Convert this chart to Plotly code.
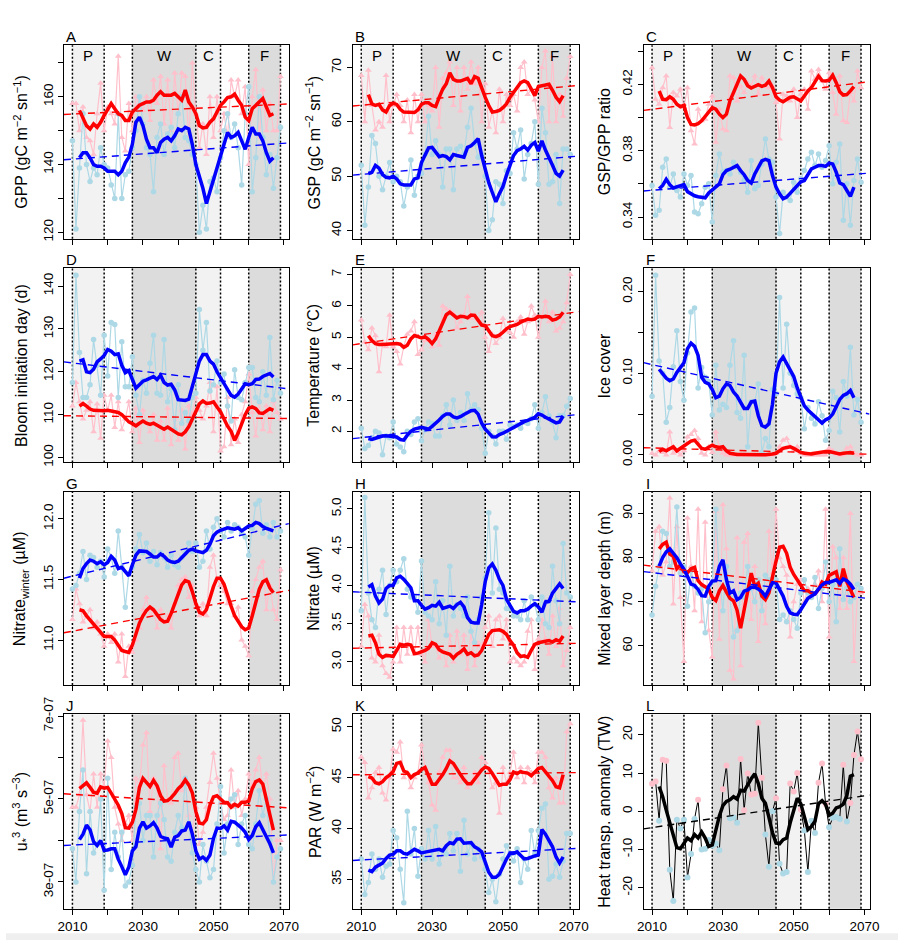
import plotly.graph_objects as go

FONT = "Liberation Sans, Arial, Helvetica, sans-serif"
YEARS = list(range(2010, 2070))
SMOOTH_YEARS = list(range(2012, 2068))
X_RANGE = [2007.6, 2071.4]
X_TICKS_LABELED = [2010, 2030, 2050, 2070]
X_TICKS_MINOR = [2020, 2040, 2060]

PERIOD_EDGES = [2010, 2019, 2027, 2045, 2052, 2060, 2069]
PERIOD_SHADES = [(2010, 2019, "#F2F2F2"), (2027, 2045, "#DCDCDC"),
                 (2045, 2052, "#F2F2F2"), (2060, 2069, "#DCDCDC")]
PERIOD_LABELS = ["P", "W", "C", "F"]

# ---------------- A: GPP ----------------
gpp_red_raw = [158,158,150,157,148,147,143,155,164,150, 157,155,152,172,148,144,158,150,160,158,
               156,160,153,165,158,166,152,165,150,167, 155,167,166,147,170,155,145,152,143,160,
               148,160,150,155,148,165,160,165,155,163, 140,160,168,148,162,150,158,150,150,166]
gpp_blue_raw = [147,121,139,155,140,135,139,137,145,140, 139,134,130,155,130,137,138,145,150,160,
                152,145,143,132,148,152,143,149,151,145, 155,160,148,147,143,140,120,128,121,135,
                136,132,142,150,155,148,152,145,134,155, 163,132,142,160,148,137,143,133,142,151]
gpp_red_smooth = [156,153.5,151.5,150.5,152,151,152.5,154.5, 156.5,158,156.5,155,154.5,153,153,155.5,
                  156.5,157.5,158,158.5,158.5,159,160.5,161.5, 160.5,160.5,160.5,161,160,159,162,158.5,
                  157,155,151.5,150.8,151,152.5,153.5,155.5, 157.5,158.5,159.8,160,160.8,159,157.5,154,
                  153,156.5,157.5,158.5,159.5,157,154.5,155]
gpp_blue_smooth = [142,143.5,143.5,142,140,139.5,139.5,139, 138,138,138,137,138,140.5,142.2,146,
                   152.5,154,151.5,147.5,145,145,143.5,146.5, 147.5,148,147,148.5,150.5,150,151,150.5,
                   146,140,136.5,133,128.5,132.5,135.5,139, 143,146,149.5,148,148.5,149.5,147,144.5,
                   148,151,149,149,147,143.5,141,142]
gpp_red_trend = [154.8, 157.9]
gpp_blue_trend = [141.4, 146.4]

# ---------------- B: GSP ----------------
gsp_red_raw = [68.5,60,69.5,63,58.5,60,59,68.5,60,63, 65,63,60,64,58,65,60,65,60,63,
               62,70,59,68,69,71,63,70,62,70, 66,71,67,70,60,67,59,62,58,66,
               60,65,63,65,62,70,71,65,66,64, 60,70,73,60,72,60,65,61,68,72]
gsp_blue_raw = [52,41,48,57.5,56,50,47.5,50,52.5,49, 50,49,44.5,48,53,46.5,50,50.5,54,61,
                54,56.5,54,48,55,55,47.5,55,55.5,54, 59,62.5,56,53.5,54,50,40,42,49,48.5,
                45,51,50.5,58,55,58.5,49.5,54,56,60, 48.5,62.5,58,48.5,49,54,45,55,55,54]
gsp_red_smooth = [65,63.3,63,63.2,62.2,61.8,63,63.4, 63.2,62.3,61.8,61.8,61.7,61.7,62.2,63.2,
                  63.5,63.5,63,62.8,64.5,66,67,69, 67.8,67.5,67.5,67.8,68,67,68.3,68,
                  66,64.5,63,61.8,61.9,62.1,62.6,63.3, 64.5,65.5,66.3,67.2,67.5,67.2,66,64.8,
                  66.5,66.6,66.7,66.9,65.8,64.5,63.7,64.8]
gsp_blue_smooth = [50.5,50.7,52,51.5,50.3,49.8,49.7,50, 49.5,48.6,48.4,48.4,48.4,49.5,49.7,52.5,
                   54,55.2,55.3,54.5,53.6,53.8,53.6,53, 54,53.8,53.6,53.5,55.3,55.6,56.2,56.9,
                   53.8,51,48.8,47,45.3,46.8,48.1,50.2, 52,53.8,54.7,55,55.5,54.8,55.7,56.2,
                   54.6,56.5,54.8,53.5,52,50.5,50,51.1]
gsp_red_trend = [62.9, 66.7]
gsp_blue_trend = [50.2, 53.7]

# ---------------- C: GSP/GPP ratio ----------------
ratio_red_raw = [.430,.411,.408,.418,.425,.394,.415,.413,.417,.406, .418,.392,.384,.405,.398,.399,.408,.413,.385,.405,
                 .393,.392,.425,.424,.410,.419,.415,.421,.419,.425, .414,.424,.419,.418,.419,.409,.387,.414,.413,.410,
                 .417,.400,.414,.417,.405,.428,.423,.429,.422,.417, .427,.415,.402,.425,.398,.397,.415,.410,.428,.418]
ratio_blue_raw = [.359,.341,.344,.370,.375,.358,.366,.356,.352,.366, .359,.365,.343,.342,.348,.358,.360,.337,.365,.378,
                  .367,.368,.366,.373,.370,.367,.362,.355,.374,.357, .359,.372,.387,.375,.373,.352,.330,.355,.352,.350,
                  .361,.355,.363,.368,.375,.379,.371,.378,.370,.374, .383,.360,.373,.384,.338,.360,.335,.362,.375,.361]
ratio_red_smooth = [.416,.411,.4108,.4125,.411,.408,.4065,.4073, .400,.3958,.3955,.3963,.398,.4008,.4033,.406,
                    .405,.402,.400,.402,.410,.415,.420,.425, .423,.4192,.4178,.419,.4198,.4188,.4195,.422,
                    .418,.4125,.4105,.4095,.411,.4122,.4125,.411, .410,.413,.416,.418,.422,.425,.4222,.422,
                    .4225,.4255,.421,.4155,.4135,.4138,.416,.4186]
ratio_blue_smooth = [.357,.359,.3627,.3595,.3575,.358,.359,.3595, .3553,.354,.3528,.3522,.352,.3516,.3545,.3565,
                     .358,.360,.3655,.368,.3688,.370,.371,.368, .3655,.362,.3605,.366,.3705,.3738,.3748,.374,
                     .365,.358,.354,.351,.352,.3543,.357,.359, .3612,.362,.366,.369,.370,.371,.371,.3705,
                     .3725,.372,.367,.3605,.3595,.356,.3525,.358]
ratio_red_trend = [0.4043, 0.4216]
ratio_blue_trend = [0.3557, 0.3665]

# ---------------- D: Bloom initiation day ----------------
bloom_blue_raw = [117.5,142.5,124.5,114,114,117,127.5,121.5,114.5,128.5, 119,131.5,131,114,127,116.5,116.5,123.5,114.5,110,
                  118,115,122,128.5,115,114.5,127.5,113,116,106.5, 117,108,110.5,108.5,114,115,134.5,125,131.5,115.5,
                  117,122.5,117.5,119.5,112,108.5,120.5,114,113.5,117.5, 121,121,114,113,120,114.5,128,113.5,118,115]
bloom_red_raw = [112,117.5,113,109,111,113,106,112.5,104.5,114.5, 111,114.5,107,113,106.5,109,113,106,111.5,103.5,
                 111,108,106,110,104,108.5,104,111.5,103,109, 104,111,102,112,110,114,111,109,112,117.5,
                 106,116.5,101.5,102.5,114,103,109,103.5,110,113, 119.5,110.5,105,113,106.5,112,106,113,110.5,109]
bloom_blue_smooth = [122.5,122.8,120,119.8,120.6,122.3,123,123.8, 125.2,124.8,124,124.2,121.5,119.8,120.3,118,
                     116.2,117,117.8,118.1,118.4,118.9,118.2,119.2, 117.5,116.9,117.1,115.8,113.5,113.3,113.3,113.6,
                     116.5,119.3,122.5,124,124,122.5,121.8,120, 118.6,117.3,115.5,114.5,114.1,114.8,116,117.2,
                     117,117.2,118.2,118.3,118.9,119.3,119.6,118.8]
bloom_red_smooth = [112,112.6,112,111.3,111,110.9,110.8,110.9, 111,110.9,110.8,110.5,110,109,108.3,107.9,
                    107.4,108,108.5,108,107.7,108,107.5,107.2, 106.6,107.1,106.6,106,105.5,105.3,106,107.2,
                    109,110.6,112.5,113.2,112.6,112.7,113,111.8, 110.7,109,107.3,106.1,104,105.7,107.8,110,
                    111.5,111.8,111.4,110.4,110.3,110.9,111.4,111]
bloom_red_trend = [109.75, 109.1]
bloom_blue_trend = [122.3, 116.0]

# ---------------- E: Temperature ----------------
temp_red_raw = [5.55,4.85,4.6,5.3,5.05,3.9,4.8,4.7,5.7,4.7, 4.55,4.15,4.7,5.1,5.2,5.5,4.45,4.6,4.9,4.95,
                4.7,5.1,4.75,6.0,5.9,5.85,5.75,5.3,5.5,5.7, 6.3,5.6,5.7,5.55,5.8,5.0,4.55,5.1,4.8,5.0,
                5.6,5.2,5.15,5.0,5.5,5.65,5.1,5.5,6.0,5.7, 5.0,5.65,6.15,5.5,5.8,5.2,5.3,5.5,6.1,7.0]
temp_blue_raw = [2.1,1.45,1.55,1.8,2.0,1.95,1.25,1.85,1.8,2.3, 1.6,1.5,1.35,2.0,1.9,2.3,2.4,1.7,2.05,2.3,
                 2.25,1.85,1.85,2.5,2.85,2.2,3.0,2.35,2.6,2.35, 3.2,2.7,2.85,2.7,2.1,1.3,2.0,1.85,1.6,2.0,
                 2.0,1.75,2.2,2.15,2.2,2.1,2.3,2.25,2.4,2.85, 2.1,2.6,3.1,2.5,2.3,1.8,2.5,2.5,2.8,3.05]
temp_red_smooth = [5.05,4.9,4.8,4.77,4.77,4.78,4.8,4.79, 4.8,4.78,4.68,4.75,4.95,5.06,5.02,4.98,
                   5.02,4.93,4.8,4.95,5.2,5.45,5.72,5.8, 5.72,5.62,5.67,5.66,5.62,5.71,5.7,5.55,
                   5.39,5.37,5.22,5.05,5.02,5.07,5.16,5.27, 5.34,5.37,5.41,5.48,5.54,5.58,5.56,5.58,
                   5.67,5.65,5.67,5.65,5.55,5.58,5.65,5.8]
temp_blue_smooth = [1.77,1.74,1.78,1.82,1.85,1.86,1.85,1.85, 1.82,1.74,1.72,1.88,2.0,2.07,2.1,2.13,
                    2.1,2.07,2.16,2.25,2.36,2.48,2.55,2.55, 2.46,2.43,2.47,2.54,2.61,2.66,2.67,2.55,
                    2.26,2.07,1.95,1.83,1.82,1.9,1.94,2.0, 2.08,2.15,2.21,2.27,2.31,2.35,2.4,2.45,
                    2.56,2.52,2.45,2.39,2.32,2.27,2.3,2.49]
temp_red_trend = [4.76, 5.82]
temp_blue_trend = [1.77, 2.54]

# ---------------- F: Ice cover ----------------
ice_blue_raw = [.072,.220,.115,.100,.040,.058,.108,.152,.090,.067, .125,.175,.180,.082,.107,.095,.090,.049,.110,.055,
                .062,.058,.110,.140,.052,.045,.122,.010,.065,.065, .087,.003,.020,.010,.080,.075,.193,.082,.160,.100,
                .085,.075,.070,.032,.058,.045,.038,.065,.048,.018, .030,.078,.070,.028,.090,.072,.132,.049,.068,.040]
ice_red_raw = [.002,.000,.005,.003,.000,.028,.002,.004,.000,.005, .022,.025,.030,.020,.002,.000,.010,.003,.028,.010,
               .002,.000,.000,.000,.000,.000,.000,.000,.000,.000, .000,.000,.000,.000,.000,.002,.010,.018,.020,.010,
               .005,.010,.002,.000,.000,.000,.000,.000,.000,.000, .008,.005,.001,.000,.000,.008,.010,.003,.000,.000]
ice_blue_smooth = [.105,.100,.094,.091,.093,.101,.107,.113, .130,.137,.133,.122,.095,.089,.087,.080,
                   .070,.072,.081,.087,.085,.077,.072,.064, .057,.057,.065,.066,.048,.036,.034,.038,
                   .062,.100,.114,.120,.112,.102,.096,.082, .072,.060,.055,.051,.047,.042,.039,.043,
                   .045,.050,.059,.068,.073,.075,.079,.070]
ice_red_smooth = [.004,.007,.005,.008,.010,.005,.008,.011, .014,.017,.018,.013,.008,.007,.009,.012,
                  .010,.009,.010,.005,.002,.001,.0005,.0005, .0003,.0003,.0003,.0003,.0003,.0003,.0003,.0005,
                  .001,.002,.005,.008,.009,.010,.008,.005, .003,.002,.001,.001,.002,.003,.004,.004,
                  .004,.003,.002,.001,.002,.003,.003,.002]
ice_red_trend = [0.0088, 0.0008]
ice_blue_trend = [0.113, 0.050]

# ---------------- G: Winter nitrate ----------------
nw_red_raw = [11.17,11.42,11.3,11.15,11.2,11.25,11.1,11.15,11.05,10.95, 11.05,10.98,11.05,10.82,11.05,10.7,10.95,10.9,11.0,11.1,
              11.25,11.35,11.2,11.25,11.1,11.25,11.15,11.2,11.1,11.3, 11.45,11.5,11.52,11.35,11.45,11.3,11.2,11.3,11.2,11.6,
              11.7,11.5,11.45,11.4,11.3,11.3,11.2,11.27,11.0,10.95, 10.87,11.4,11.5,11.6,11.65,11.25,11.45,11.25,11.17,11.58]
nw_blue_raw = [11.42,11.45,11.55,11.73,11.5,11.7,11.68,11.6,11.65,11.52, 11.75,11.68,11.55,11.9,11.6,11.27,11.55,11.6,11.75,11.87,
               11.72,11.8,11.65,11.73,11.62,11.72,11.68,11.6,11.7,11.62, 11.6,11.68,11.72,11.8,11.73,11.8,11.6,11.65,11.9,11.75,
               11.93,12.0,11.9,11.85,11.97,11.9,11.95,11.93,11.88,11.85, 11.7,11.92,12.12,12.15,11.88,11.95,11.85,11.97,11.85,11.9]
nw_blue_smooth = [11.51,11.59,11.63,11.66,11.65,11.63,11.645,11.62, 11.64,11.69,11.66,11.59,11.6,11.56,11.53,11.62,
                  11.7,11.735,11.735,11.73,11.71,11.685,11.685,11.71, 11.69,11.66,11.645,11.64,11.65,11.685,11.71,11.74,
                  11.75,11.735,11.725,11.72,11.74,11.79,11.86,11.89, 11.905,11.913,11.925,11.92,11.914,11.925,11.9,11.92,
                  11.94,11.945,11.97,11.96,11.935,11.92,11.91,11.9]
nw_red_smooth = [11.25,11.242,11.2,11.165,11.13,11.097,11.06,11.03, 11.03,11.03,11.0,10.955,10.915,10.906,10.898,10.96,
                 11.06,11.14,11.2,11.245,11.272,11.25,11.21,11.17, 11.15,11.156,11.22,11.3,11.385,11.455,11.49,11.48,
                 11.4,11.3,11.23,11.215,11.25,11.35,11.44,11.51, 11.51,11.46,11.36,11.28,11.2,11.16,11.11,11.085,
                 11.1,11.2,11.3,11.42,11.48,11.497,11.43,11.39]
nw_red_trend = [11.06, 11.41]
nw_blue_trend = [11.51, 11.96]

# ---------------- H: Nitrate ----------------
no3_blue_raw = [3.67,5.15,3.9,3.55,3.45,3.95,4.2,3.62,4.0,4.2, 4.05,4.2,4.35,3.95,3.85,3.85,3.65,4.32,3.65,3.6,
                3.55,4.05,3.5,3.8,3.35,4.25,3.6,3.75,3.7,3.6, 3.85,3.4,3.25,3.55,3.85,4.1,4.95,3.9,4.75,3.95,
                3.9,3.7,3.7,3.6,3.6,3.55,3.8,3.55,3.85,3.75, 3.55,3.85,3.5,3.45,4.25,3.8,3.5,4.55,3.9,3.85]
no3_red_raw = [3.2,3.75,3.6,3.05,3.0,3.35,2.95,2.85,2.8,3.0, 3.45,3.0,3.45,3.1,3.45,3.1,3.45,3.1,3.0,3.55,
               3.2,3.2,3.05,3.15,2.95,3.35,3.0,3.4,3.1,3.35, 2.9,3.4,2.95,3.25,3.2,3.45,3.6,3.2,3.55,3.6,
               3.3,3.55,3.0,3.05,3.0,2.95,3.0,3.4,3.55,2.9, 3.3,3.55,3.3,3.1,3.6,3.2,3.7,2.95,3.15,3.45]
no3_blue_smooth = [3.98,4.01,3.86,3.77,3.82,3.96,4.0,4.0, 4.1,4.12,4.08,4.03,3.97,3.8,3.8,3.74,
                   3.69,3.71,3.74,3.73,3.78,3.7,3.72,3.73, 3.7,3.75,3.78,3.72,3.58,3.52,3.51,3.51,
                   3.75,4.05,4.23,4.28,4.2,4.08,4.0,3.82, 3.74,3.66,3.64,3.67,3.67,3.69,3.73,3.76,
                   3.72,3.65,3.78,3.79,3.9,3.96,4.02,3.96]
no3_red_smooth = [3.34,3.35,3.25,3.1,3.06,3.085,3.08,3.07, 3.15,3.23,3.22,3.23,3.22,3.11,3.115,3.13,
                  3.15,3.18,3.25,3.23,3.16,3.13,3.12,3.1, 3.05,3.1,3.13,3.17,3.1,3.12,3.08,3.09,
                  3.15,3.27,3.36,3.41,3.41,3.42,3.4,3.36, 3.28,3.22,3.12,3.07,3.08,3.06,3.15,3.23,
                  3.25,3.26,3.26,3.28,3.26,3.29,3.27,3.34]
no3_red_trend = [3.179, 3.243]
no3_blue_trend = [3.917, 3.785]

# ---------------- I: Mixed layer depth ----------------
mld_red_raw = [77,86,87,76,79,93.5,69.5,87,71,56.5, 89,78,68,91,65.5,88,63.5,57.5,90.5,61.5,
               92,82,54.5,52.5,84.5,55.5,83.5,85.5,66,78, 61,71,65,86,76.5,91,80,78,76,62,
               70,74,75,70,73,72,74,77,70,91, 62,82.5,80,68.5,80,68.5,90,56.5,72,72]
mld_blue_raw = [67,73.5,78,86,85.5,78,79,91.5,76.5,78, 69,77,73.5,72,73,63,70,74.5,91,76,
                68,78,71,62,63.5,72,71,78,73,70, 75,68,76,75,74,75,66,67,65.5,68,
                66,64,72,75,72,71,75.5,68.5,73,79, 70,74,65.5,82,70.5,73,70,71,74,73]
mld_red_smooth = [82,83,83.5,80.8,80.3,77.5,78.3,76.8, 76.6,77.5,77.8,74.8,73.9,73.4,72.9,71,
                  70.3,72.5,73.7,72.2,70.8,70.2,68.1,64, 68.5,72,76.5,73.5,74.2,71.3,70.5,72,
                  75.8,79.2,82.4,82.6,81,77.8,76.2,75, 73.6,72.5,72.5,72,71.8,72.8,74.5,74,
                  76,76.5,76.8,73.5,77.5,74.5,72.8,71]
mld_blue_smooth = [78.1,80,81.3,82,81,80,78.6,77.4, 75.8,74,73.7,72.8,71.4,71.3,73.5,74.7,
                   74.8,78,79.5,75,72,72.5,70.5,71, 72.4,72.7,73.3,73.3,72.9,72.3,71.3,73,
                   74.3,74.3,72.8,71.3,69,67.5,67.2,67.1, 68.2,69.5,70.8,71.3,71.8,72.9,73.8,74.4,
                   74.4,74.7,75,74.2,75.2,74.8,74,72.8]
mld_red_trend = [78.3, 72.04]
mld_blue_trend = [76.85, 70.7]

# ---------------- J: u*^3 (units of 1e-07) ----------------
ustar_red_raw = [4.8,4.8,5.1,6.9,5.1,4.7,5.6,4.8,5.6,5.3, 6.4,6.0,4.8,4.4,4.0,4.4,4.6,4.0,5.5,5.3,
                 6.3,6.6,4.7,5.5,5.3,3.8,5.8,5.0,4.9,6.0, 6.1,5.2,5.5,4.6,4.2,4.8,3.9,4.2,4.8,5.4,
                 6.1,5.5,4.9,4.5,4.6,5.7,4.8,5.2,4.6,5.0, 5.6,5.3,5.7,6.0,5.2,5.6,5.0,3.0,4.0,4.0]
ustar_blue_raw = [3.8,3.0,4.7,5.7,3.2,4.7,3.7,3.9,5.0,2.8, 5.5,3.3,4.2,3.6,4.2,2.9,3.0,3.4,4.8,4.9,
                  4.0,4.6,4.6,3.6,4.6,4.9,4.5,3.6,3.5,4.2, 4.6,4.3,5.5,4.4,3.7,3.3,3.0,3.9,3.5,3.1,
                  3.3,4.4,5.3,3.7,4.4,5.0,5.1,3.9,4.4,4.6, 3.9,3.8,4.4,5.2,4.6,5.0,4.0,3.0,3.6,3.8]
ustar_red_smooth = [5.25,5.32,5.39,5.28,5.16,5.14,5.29,5.26, 5.28,5.14,5.01,4.85,4.65,4.31,4.3,4.44,
                    4.75,5.28,5.5,5.4,5.3,5.45,5.32,5.08, 4.95,4.96,5.03,5.13,5.25,5.33,5.46,5.34,
                    5.15,4.7,4.42,4.4,4.5,4.85,5.05,5.08, 5.0,4.92,4.91,4.8,4.87,4.83,4.92,4.92,
                    4.95,5.25,5.42,5.46,5.36,5.0,4.57,4.25]
ustar_blue_smooth = [4.02,4.15,4.37,4.26,3.97,3.88,4.0,3.76, 3.77,3.8,3.8,3.55,3.37,3.17,3.36,3.75,
                     3.85,4.3,4.45,4.3,4.35,4.43,4.3,4.1, 4.06,4.04,3.84,4.08,4.12,4.23,4.25,4.45,
                     4.16,3.75,3.55,3.6,3.52,3.65,4.05,4.3, 4.29,4.35,4.25,4.46,4.44,4.38,4.3,4.2,
                     4.02,4.12,4.33,4.43,4.27,4.1,3.92,3.7]
ustar_red_trend = [5.126, 4.787]
ustar_blue_trend = [3.88, 4.134]

# ---------------- K: PAR ----------------
par_red_raw = [47,46.5,43,44,45.5,46,43.5,42.8,45,47.8, 47.5,48.5,45,45.5,44,45,45.5,48.2,46,44.5,
               42.3,41.8,45.5,47,47.7,47.7,45,45,44.5,46, 44,44.5,45.5,44.5,47,46.5,45.5,44,44.5,41.5,
               46,44.5,45.5,47.5,45,46,44.5,46,45.5,44.5, 47.5,47.5,47,44,43,45,42.5,42.5,49.5,50.3]
par_blue_raw = [37,33.5,34.7,37.5,36,37,35.2,36.3,36.5,39.8, 39.1,36,32.7,41.7,37.5,40,35.3,38,37,39.8,
                37,40.2,36.5,37.8,37.5,39.5,37.8,39.5,35.8,40.8, 37.5,38.5,37,38,37.2,36,33.7,35,32.8,35.5,
                37,38.3,37.5,36.8,38,34.7,37,36,39.8,37.5, 39.8,42,42.4,35,35.3,36.5,35.2,36.8,39.5,39.5]
par_red_smooth = [45.1,44.96,44.5,44.4,44.6,45,45.25,45.6, 46.4,46.5,45.65,45.5,45,45.3,45.45,45.8,
                  46,45.2,44.35,44.35,44.8,45.3,45.9,46.65, 46.4,45.8,45.3,44.8,44.4,44.4,44.9,45.3,
                  45.76,46.05,45.9,45.4,44.8,44.25,44.35,44.35, 44.8,45.55,45.4,45.6,45.5,45.45,45.2,45.5,
                  45.9,46,45.6,45.2,44.7,44.1,44.0,45.3]
par_blue_smooth = [35.9,35.75,36.2,36.4,36.6,37.05,37.38,37.45, 37.8,37.8,37.55,37.47,37.75,37.95,37.8,37.6,
                   37.68,37.75,37.85,37.9,37.95,37.8,38.3,38.6, 38.5,38.95,38.98,38.55,38.55,38.62,38.2,38.0,
                   37.7,36.6,35.7,35.2,35.2,35.5,36.3,37.0, 37.57,37.55,37.7,37.4,37.0,37.05,37.2,37.3,
                   37.4,39.9,39.45,38.85,38.2,37.2,36.6,37.2]
par_red_trend = [45.28, 45.5]
par_blue_trend = [36.86, 38.05]

# ---------------- L: Heat transport anomaly ----------------
heat_raw = [7.2,7.8,-2.5,13.5,13.2,-15.3,-23.5,-2.2,-4.5,-2.2, -17.3,-11.2,-2.0,3.0,-10,-9.8,-7.5,-9,-8.5,-10.2,
            5.8,12,-1.8,-1.6,-3.0,13.7,0.3,9.9,4.4,4.6, 23.2,8.8,-6.1,-14.5,0,3.4,-13.7,-16.3,-15.9,7.3,
            5.2,10,0.5,-5,-15.9,-2.5,-5.7,7.5,12.5,1.9, -4.2,-1.7,-1.5,-2,12.2,-2.7,2.2,14.7,20.9,13.6]
heat_smooth = [6.5,3.8,0.3,-3.0,-6.5,-9.5,-9.8,-8.2, -7,-7.7,-6.1,-7,-5.4,-7,-9.2,-8.8,
               -5,-1.2,1.5,2.6,3,3.8,3.2,5.5, 5.3,7,8.5,9.8,7.3,3.4,2.1,-1.6,
               -5.6,-8.3,-8.5,-7.4,-7,-3,0,3.4, 2,-1.8,-4.8,-4,-2.6,2,2.8,1.8,
               -1,-0.5,0.9,1.2,1.9,4.1,9.2,9.6]
heat_trend = [-4.6, 4.26]

# y ticks: labelled values and unlabelled (minor) tick positions
PANELS = [
    dict(letter="A", ytitle="GPP (gC m<sup>−2</sup> sn<sup>−1</sup>)", yrange=[118.1, 175.2],
         tickvals=[120, 140, 160], ticktext=["120", "140", "160"], minor=[130, 150, 170],
         red=(gpp_red_raw, gpp_red_smooth, gpp_red_trend), blue=(gpp_blue_raw, gpp_blue_smooth, gpp_blue_trend)),
    dict(letter="B", ytitle="GSP (gC m<sup>−2</sup> sn<sup>−1</sup>)", yrange=[38.5, 74.06],
         tickvals=[40, 50, 60, 70], ticktext=["40", "50", "60", "70"], minor=[],
         red=(gsp_red_raw, gsp_red_smooth, gsp_red_trend), blue=(gsp_blue_raw, gsp_blue_smooth, gsp_blue_trend)),
    dict(letter="C", ytitle="GSP/GPP ratio", yrange=[0.3269, 0.4435],
         tickvals=[0.34, 0.38, 0.42], ticktext=["0.34", "0.38", "0.42"], minor=[0.36, 0.40, 0.44],
         red=(ratio_red_raw, ratio_red_smooth, ratio_red_trend), blue=(ratio_blue_raw, ratio_blue_smooth, ratio_blue_trend)),
    dict(letter="D", ytitle="Bloom initiation day (d)", yrange=[98.86, 144.2],
         tickvals=[100, 110, 120, 130, 140], ticktext=["100", "110", "120", "130", "140"], minor=[],
         red=(bloom_red_raw, bloom_red_smooth, bloom_red_trend), blue=(bloom_blue_raw, bloom_blue_smooth, bloom_blue_trend)),
    dict(letter="E", ytitle="Temperature (°C)", yrange=[1.01, 7.21],
         tickvals=[2, 3, 4, 5, 6, 7], ticktext=["2", "3", "4", "5", "6", "7"], minor=[],
         red=(temp_red_raw, temp_red_smooth, temp_red_trend), blue=(temp_blue_raw, temp_blue_smooth, temp_blue_trend)),
    dict(letter="F", ytitle="Ice cover", yrange=[-0.0092, 0.229],
         tickvals=[0, 0.10, 0.20], ticktext=["0.00", "0.10", "0.20"], minor=[0.05, 0.15],
         red=(ice_red_raw, ice_red_smooth, ice_red_trend), blue=(ice_blue_raw, ice_blue_smooth, ice_blue_trend)),
    dict(letter="G", ytitle="Nitrate<sub>winter</sub> (µM)", yrange=[10.629, 12.223],
         tickvals=[11.0, 11.5, 12.0], ticktext=["11.0", "11.5", "12.0"], minor=[],
         red=(nw_red_raw, nw_red_smooth, nw_red_trend), blue=(nw_blue_raw, nw_blue_smooth, nw_blue_trend)),
    dict(letter="H", ytitle="Nitrate (µM)", yrange=[2.697, 5.226],
         tickvals=[3.0, 3.5, 4.0, 4.5, 5.0], ticktext=["3.0", "3.5", "4.0", "4.5", "5.0"], minor=[],
         red=(no3_red_raw, no3_red_smooth, no3_red_trend), blue=(no3_blue_raw, no3_blue_smooth, no3_blue_trend)),
    dict(letter="I", ytitle="Mixed layer depth (m)", yrange=[51.13, 94.95],
         tickvals=[60, 70, 80, 90], ticktext=["60", "70", "80", "90"], minor=[],
         red=(mld_red_raw, mld_red_smooth, mld_red_trend), blue=(mld_blue_raw, mld_blue_smooth, mld_blue_trend)),
    dict(letter="J", ytitle="u<sub>*</sub><sup>3</sup> (m<sup>3</sup> s<sup>−3</sup>)", yrange=[2.354, 7.04],
         tickvals=[3, 5, 7], ticktext=["3e-07", "5e-07", "7e-07"], minor=[4, 6],
         red=(ustar_red_raw, ustar_red_smooth, ustar_red_trend), blue=(ustar_blue_raw, ustar_blue_smooth, ustar_blue_trend)),
    dict(letter="K", ytitle="PAR (W m<sup>−2</sup>)", yrange=[32.11, 51.22],
         tickvals=[35, 40, 45, 50], ticktext=["35", "40", "45", "50"], minor=[],
         red=(par_red_raw, par_red_smooth, par_red_trend), blue=(par_blue_raw, par_blue_smooth, par_blue_trend)),
    dict(letter="L", ytitle="Heat transp. anomaly (TW)", yrange=[-25.5, 25.36],
         tickvals=[-20, -10, 0, 10, 20], ticktext=["-20", "-10", "0", "10", "20"], minor=[],
         heat=(heat_raw, heat_smooth, heat_trend)),
]

W, H = 908, 944
COLS = [(59, 288), (353, 583), (649, 879)]
ROWS = [(28, 226), (256, 455), (485, 683), (713, 912)]
YTITLE_X = [15, 313, 609]

PINK, LBLUE, RED, BLUE = "#FFC0CB", "#ADD8E6", "#FF0000", "#0000FF"
TICKFONT = dict(size=13.5)

fig = go.Figure()
shapes, annotations = [], []
layout = dict(width=W, height=H, margin=dict(l=0, r=0, t=0, b=0),
              paper_bgcolor="white", plot_bgcolor="white", showlegend=False,
              font=dict(family=FONT, size=13, color="black"))


def minor_spec(vals):
    if not vals:
        return dict(ticks="")
    return dict(tickmode="array", tickvals=vals, ticks="outside", ticklen=5,
                tickwidth=1, tickcolor="black", showgrid=False)


for i, p in enumerate(PANELS):
    r, c = divmod(i, 3)
    n = i + 1
    sfx = "" if n == 1 else str(n)
    xa, ya = f"x{sfx}", f"y{sfx}"
    x0, x1 = COLS[c]
    y0, y1 = ROWS[r]
    common = dict(ticks="outside", ticklen=5, tickwidth=1, tickcolor="black",
                  showline=True, mirror=True, linecolor="black", linewidth=1,
                  showgrid=False, zeroline=False, tickfont=TICKFONT)
    if r == 3:
        xticks = dict(tickmode="array", tickvals=X_TICKS_LABELED,
                      ticktext=[str(v) for v in X_TICKS_LABELED], minor=minor_spec(X_TICKS_MINOR))
    else:
        xticks = dict(tickmode="array", tickvals=X_TICKS_LABELED + X_TICKS_MINOR,
                      showticklabels=False)
    layout[f"xaxis{sfx}"] = dict(domain=[x0 / W, x1 / W], anchor=ya, range=X_RANGE, **xticks, **common)
    layout[f"yaxis{sfx}"] = dict(domain=[1 - y1 / H, 1 - y0 / H], anchor=xa, range=p["yrange"],
                                 tickmode="array", tickvals=p["tickvals"], ticktext=p["ticktext"],
                                 tickangle=-90, minor=minor_spec(p["minor"]), **common)
    xref, yref = xa, f"{ya} domain"
    for a, b, col in PERIOD_SHADES:
        shapes.append(dict(type="rect", xref=xref, yref=yref, x0=a, x1=b, y0=0, y1=1,
                           fillcolor=col, line=dict(width=0), layer="below"))
    for e in PERIOD_EDGES:
        shapes.append(dict(type="line", xref=xref, yref=yref, x0=e, x1=e, y0=0, y1=1,
                           line=dict(color="black", width=1.5, dash="2px,2px"), layer="below"))
    annotations.append(dict(text=p["letter"], xref=f"{xa} domain", yref=f"{ya} domain", x=0, y=1,
                            xanchor="left", yanchor="bottom", showarrow=False, yshift=-2,
                            font=dict(size=15)))
    annotations.append(dict(text=p["ytitle"], xref="paper", yref="paper", x=YTITLE_X[c] / W,
                            y=1 - (y0 + y1) / 2 / H, textangle=-90, showarrow=False,
                            xanchor="center", yanchor="middle", font=dict(size=16)))
    if r == 0:
        for (a, b, _), lab in zip(PERIOD_SHADES, PERIOD_LABELS):
            annotations.append(dict(text=lab, xref=xa, yref=f"{ya} domain", x=(a + b) / 2, y=0.95,
                                    showarrow=False, xanchor="center", yanchor="middle",
                                    font=dict(size=15)))

    if "heat" in p:
        raw, sm, tr = p["heat"]
        fig.add_trace(go.Scatter(x=YEARS, y=raw, xaxis=xa, yaxis=ya, mode="lines",
                                 line=dict(color="black", width=1)))
        fig.add_trace(go.Scatter(x=YEARS, y=raw, xaxis=xa, yaxis=ya, mode="markers",
                                 marker=dict(color=[PINK if v > 0 else LBLUE for v in raw], size=6)))
        fig.add_trace(go.Scatter(x=SMOOTH_YEARS, y=sm, xaxis=xa, yaxis=ya, mode="lines",
                                 line=dict(color="black", width=3.5)))
        fig.add_trace(go.Scatter(x=X_RANGE, y=tr, xaxis=xa, yaxis=ya, mode="lines",
                                 line=dict(color="black", width=1.4, dash="7px,5px")))
        continue

    rr, rs, rt = p["red"]
    br, bs, bt = p["blue"]
    fig.add_trace(go.Scatter(x=YEARS, y=rr, xaxis=xa, yaxis=ya, mode="lines+markers",
                             line=dict(color=PINK, width=1.2),
                             marker=dict(symbol="triangle-up", size=6, color=PINK)))
    fig.add_trace(go.Scatter(x=YEARS, y=br, xaxis=xa, yaxis=ya, mode="lines+markers",
                             line=dict(color=LBLUE, width=1.2),
                             marker=dict(symbol="circle", size=5.5, color=LBLUE)))
    fig.add_trace(go.Scatter(x=SMOOTH_YEARS, y=rs, xaxis=xa, yaxis=ya, mode="lines",
                             line=dict(color=RED, width=3.5)))
    fig.add_trace(go.Scatter(x=SMOOTH_YEARS, y=bs, xaxis=xa, yaxis=ya, mode="lines",
                             line=dict(color=BLUE, width=3.5)))
    fig.add_trace(go.Scatter(x=X_RANGE, y=rt, xaxis=xa, yaxis=ya, mode="lines",
                             line=dict(color=RED, width=1.4, dash="7px,5px")))
    fig.add_trace(go.Scatter(x=X_RANGE, y=bt, xaxis=xa, yaxis=ya, mode="lines",
                             line=dict(color=BLUE, width=1.4, dash="7px,5px")))

shapes.append(dict(type="rect", xref="paper", yref="paper", x0=0, x1=1, y0=0, y1=7 / H,
                   fillcolor="#EFEFEF", line=dict(width=0), layer="below"))
layout["shapes"] = shapes
layout["annotations"] = annotations
fig.update_layout(**layout)
fig.write_html("out.html")
